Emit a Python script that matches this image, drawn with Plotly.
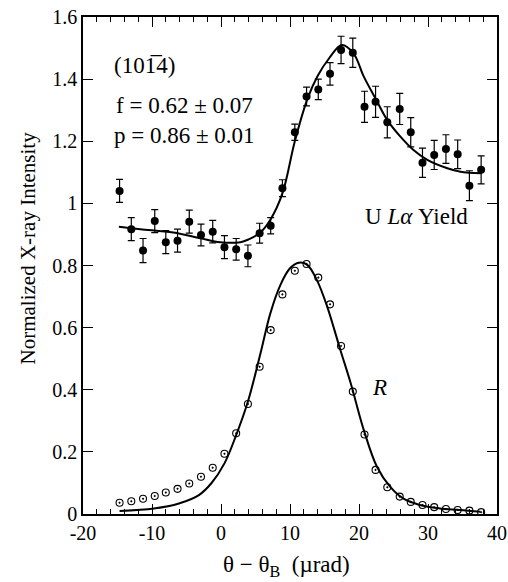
import plotly.graph_objects as go

# ---- data ----
theta = [-14.7, -13.0, -11.3, -9.6, -8.0, -6.3, -4.6, -2.9, -1.2, 0.5, 2.2, 3.9, 5.6, 7.2,
         8.9, 10.7, 12.4, 14.1, 15.8, 17.4, 19.1, 20.8, 22.4, 24.1, 25.9, 27.5, 29.2, 30.9,
         32.6, 34.3, 36.0, 37.7]
yield_vals = [1.040, 0.917, 0.848, 0.943, 0.875, 0.880, 0.941, 0.898, 0.909, 0.859, 0.852,
              0.831, 0.904, 0.928, 1.049, 1.229, 1.344, 1.367, 1.417, 1.494, 1.485, 1.311,
              1.327, 1.261, 1.304, 1.229, 1.131, 1.156, 1.175, 1.158, 1.057, 1.108]
yield_err = [0.037, 0.037, 0.039, 0.037, 0.037, 0.037, 0.037, 0.035, 0.036, 0.037, 0.035,
             0.035, 0.032, 0.026, 0.027, 0.026, 0.030, 0.033, 0.036, 0.044, 0.047, 0.050,
             0.050, 0.050, 0.050, 0.047, 0.047, 0.047, 0.046, 0.046, 0.048, 0.045]
refl_vals = [0.036, 0.041, 0.049, 0.058, 0.069, 0.081, 0.098, 0.120, 0.149, 0.194, 0.260,
             0.354, 0.474, 0.592, 0.707, 0.783, 0.805, 0.761, 0.675, 0.541, 0.394, 0.256,
             0.142, 0.086, 0.056, 0.039, 0.029, 0.022, 0.016, 0.013, 0.011, 0.006]

yield_fit_x = [-14.8, -11.7, -6.9, -3.0, -0.1, 2.8, 4.0, 5.7, 7.15, 8.9, 10.7, 12.5, 14.0,
               15.7, 17.5, 19.2, 20.7, 22.5, 24.1, 26.0, 27.9, 29.9, 32.8, 34.7, 37.7]
yield_fit_y = [0.925, 0.917, 0.906, 0.888, 0.875, 0.875, 0.884, 0.906, 0.947, 1.032, 1.200,
               1.335, 1.410, 1.468, 1.510, 1.483, 1.408, 1.333, 1.268, 1.215, 1.172, 1.140,
               1.113, 1.102, 1.097]
refl_fit_x = [-14.7, -9.7, -6.1, -3.2, -1.4, 0.5, 2.2, 3.9, 5.7, 7.15, 8.6, 10.0, 11.3, 12.5,
              13.9, 15.4, 17.3, 18.8, 20.7, 22.6, 24.5, 26.4, 28.8, 31.7, 34.6, 37.6]
refl_fit_y = [0.010, 0.018, 0.034, 0.061, 0.099, 0.163, 0.254, 0.362, 0.515, 0.646, 0.737,
              0.791, 0.809, 0.802, 0.753, 0.667, 0.528, 0.421, 0.270, 0.152, 0.088, 0.050,
              0.029, 0.018, 0.013, 0.007]

x_tickvals = [-20, -10, 0, 10, 20, 30, 40]
x_ticktext = ["-20", "-10", "0", "10", "20", "30", "40"]
y_tickvals = [0, 0.2, 0.4, 0.6, 0.8, 1.0, 1.2, 1.4, 1.6]
y_ticktext = ["0", "0.2", "0.4", "0.6", "0.8", "1", "1.2", "1.4", "1.6"]

FONT = "Liberation Serif, Times New Roman, serif"

fig = go.Figure()
fig.add_trace(go.Scatter(x=yield_fit_x, y=yield_fit_y, mode="lines",
                         line=dict(color="black", width=2, shape="spline", smoothing=1.0),
                         hoverinfo="skip"))
fig.add_trace(go.Scatter(x=refl_fit_x, y=refl_fit_y, mode="lines",
                         line=dict(color="black", width=2, shape="spline", smoothing=1.0),
                         hoverinfo="skip"))
fig.add_trace(go.Scatter(x=theta, y=yield_vals, mode="markers",
                         marker=dict(symbol="circle", size=8, color="black"),
                         error_y=dict(type="data", array=yield_err, visible=True,
                                      color="black", thickness=1.2, width=3.5)))
fig.add_trace(go.Scatter(x=theta, y=refl_vals, mode="markers",
                         marker=dict(symbol="circle-open-dot", size=7,
                                     color="black", line=dict(width=1.1, color="black"))))

ann = dict(xref="x", yref="y", showarrow=False, font=dict(family=FONT, size=23, color="black"))
fig.add_annotation(x=-15.8, y=1.445, text="(101\u03054)", xanchor="left", yanchor="middle", **ann)
fig.add_annotation(x=-15.5, y=1.314, text="f = 0.62 \u00b1 0.07", xanchor="left", yanchor="middle", **ann)
fig.add_annotation(x=-15.8, y=1.220, text="p = 0.86 \u00b1 0.01", xanchor="left", yanchor="middle", **ann)
fig.add_annotation(x=20.6, y=0.957, text="U <i>L\u03b1</i> Yield", xanchor="left", yanchor="middle", **ann)
fig.add_annotation(x=22.9, y=0.407, text="<i>R</i>", xanchor="center", yanchor="middle", **ann)

# axis titles
fig.add_annotation(xref="paper", yref="paper", x=-0.132, y=0.535, textangle=-90,
                   xanchor="center", yanchor="middle",
                   text="Normalized X-ray Intensity", showarrow=False,
                   font=dict(family=FONT, size=21, color="black"))
fig.add_annotation(xref="paper", yref="paper", x=0.491, y=-0.105,
                   xanchor="center", yanchor="middle",
                   text="\u03b8 \u2212 \u03b8<sub>B</sub>  (\u00b5rad)", showarrow=False,
                   font=dict(family=FONT, size=23, color="black"))

axis_common = dict(showline=True, linecolor="black", linewidth=1.5, mirror="ticks",
                   ticks="inside", tickcolor="black", tickwidth=1.2, showgrid=False,
                   zeroline=False, automargin=False, ticklabeloverflow="allow",
                   tickfont=dict(family=FONT, size=20, color="black"))
fig.update_xaxes(range=[-20, 40], tickmode="array", tickvals=x_tickvals, ticktext=x_ticktext,
                 ticklen=10,
                 minor=dict(dtick=2, tick0=0, ticks="inside", ticklen=5, tickcolor="black",
                            tickwidth=1.2, showgrid=False),
                 **axis_common)
fig.update_yaxes(range=[0, 1.6], tickmode="array", tickvals=y_tickvals, ticktext=y_ticktext,
                 ticklen=10, **axis_common)

fig.update_layout(width=508, height=582, showlegend=False,
                  margin=dict(l=83, r=11, t=17, b=68, autoexpand=False),
                  paper_bgcolor="white", plot_bgcolor="white",
                  font=dict(family=FONT, color="black"))

# remove the default page margin so the 508x582 figure fills the window exactly
fig.write_html("out.html",
               config={"displayModeBar": False},
               post_script="document.body.style.margin='0';document.body.style.overflow='hidden';")
